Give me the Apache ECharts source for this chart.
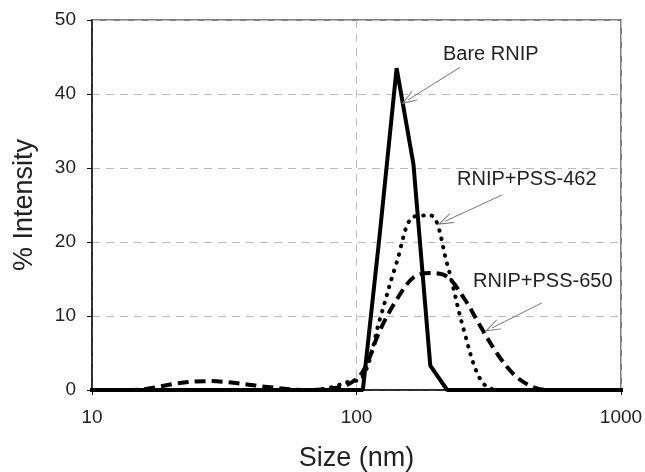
<!DOCTYPE html>
<html>
<head>
<meta charset="utf-8">
<script src="https://cdn.jsdelivr.net/npm/echarts@6/dist/echarts.min.js"></script>
<style>
  html, body { margin: 0; padding: 0; background: #fff; }
  #chart { width: 645px; height: 472px; }
</style>
</head>
<body>
<div id="chart"></div>
<script>
// size bins (nm), log spaced
const sizes = [8.72, 10.10, 11.70, 13.54, 15.69, 18.17, 21.04, 24.36, 28.21, 32.67, 37.84, 43.82,
  50.75, 58.77, 68.06, 78.82, 91.28, 105.7, 122.4, 141.8, 164.2, 190.1, 220.2, 255.0, 295.3,
  342.0, 396.1, 458.7, 531.2, 615.1, 712.4, 825.0, 955.4, 1106];

const bareRnip = [0, 0, 0, 0, 0, 0, 0, 0, 0, 0, 0, 0,
  0, 0, 0, 0, 0, 0, 21, 43.5, 30.5, 3.3, 0, 0, 0,
  0, 0, 0, 0, 0, 0, 0, 0, 0];

const pss462 = [0, 0, 0, 0, 0, 0, 0, 0, 0, 0, 0, 0,
  0, 0, 0, 0.3, 1.0, 1.8, 9.5, 17.2, 23.4, 23.6, 17, 8, 1.3,
  0, 0, 0, 0, 0, 0, 0, 0, 0];

const pss650 = [0, 0, 0, 0, 0.1, 0.5, 0.9, 1.15, 1.2, 1.05, 0.8, 0.5,
  0.25, 0.05, 0, 0.2, 0.6, 2.5, 8, 12.2, 15.2, 15.8, 15.3, 12.4, 8.5,
  4.8, 2, 0.5, 0, 0, 0, 0, 0, 0];

const yTicks = [0, 10, 20, 30, 40, 50];

// annotation arrows: [from, to] in data coords
const arrowBare = [[246, 43.6], [156.6, 39.2]];
const arrow462 = [[355, 26.35], [216, 22.8]];
const arrow650 = [[502, 11.76], [325, 8.38]];

const pairs = vals => sizes.map((s, i) => [s, vals[i]]);

const arrowHead = 'path://M0,0 L6,14 L5,14 L0,3 L-5,14 L-6,14 Z';

const arrowLine = (pts) => ({
  silent: true,
  symbol: ['none', arrowHead],
  symbolSize: [11, 16],
  label: { show: false },
  lineStyle: { color: '#777', width: 1, type: 'solid' },
  data: [[{ coord: pts[0] }, { coord: pts[1] }]],
});

const annoFont = '20px Liberation Sans, Arial';

const chart = echarts.init(document.getElementById('chart'));
chart.setOption({
  animation: false,
  backgroundColor: '#fff',
  textStyle: { fontFamily: 'Liberation Sans, Arial, sans-serif' },
  grid: {
    left: 92, right: 24, top: 20, bottom: 82,
    outerBoundsMode: 'none',
    containLabel: false,
    show: true, borderColor: '#555', borderWidth: 1.5,
  },
  xAxis: {
    type: 'log',
    logBase: 10,
    min: 10,
    max: 1000,
    name: 'Size (nm)',
    nameLocation: 'middle',
    nameGap: 55,
    nameTextStyle: { fontSize: 27, color: '#222' },
    axisLine: { lineStyle: { color: '#111', width: 1.5 } },
    axisTick: { length: 5, lineStyle: { color: '#111' } },
    axisLabel: { fontSize: 19, color: '#222', margin: 18, formatter: v => String(v) },
    splitLine: { show: true, lineStyle: { color: '#bbb', type: [8, 6], width: 1 } },
    minorTick: { show: false },
  },
  yAxis: {
    type: 'value',
    min: yTicks[0],
    max: yTicks[yTicks.length - 1],
    interval: 10,
    name: '% Intensity',
    nameLocation: 'middle',
    nameGap: 54,
    nameTextStyle: { fontSize: 27, color: '#222' },
    axisLine: { show: true, lineStyle: { color: '#111', width: 1.5 } },
    axisTick: { show: true, length: 5, lineStyle: { color: '#111' } },
    axisLabel: { fontSize: 19, color: '#222', margin: 16 },
    splitLine: { show: true, lineStyle: { color: '#bbb', type: [8, 6], width: 1 } },
  },
  series: [
    {
      name: 'RNIP+PSS-650',
      type: 'line',
      data: pairs(pss650),
      smooth: 0.35,
      showSymbol: false,
      lineStyle: { color: '#000', width: 4, type: [11, 6] },
      markLine: arrowLine(arrow650),
    },
    {
      name: 'RNIP+PSS-462',
      type: 'line',
      data: pairs(pss462),
      smooth: 0.35,
      showSymbol: false,
      lineStyle: { color: '#000', width: 4, type: [0.5, 8], cap: 'round' },
      markLine: arrowLine(arrow462),
    },
    {
      name: 'Bare RNIP',
      type: 'line',
      data: pairs(bareRnip),
      showSymbol: false,
      lineStyle: { color: '#000', width: 4 },
      markLine: arrowLine(arrowBare),
    },
  ],
  graphic: [
    { type: 'text', left: 443, top: 44, style: { text: 'Bare RNIP', font: annoFont, fill: '#222' } },
    { type: 'text', left: 457, top: 169, style: { text: 'RNIP+PSS-462', font: annoFont, fill: '#222' } },
    { type: 'text', left: 473, top: 271, style: { text: 'RNIP+PSS-650', font: annoFont, fill: '#222' } },
  ],
});
</script>
</body>
</html>
